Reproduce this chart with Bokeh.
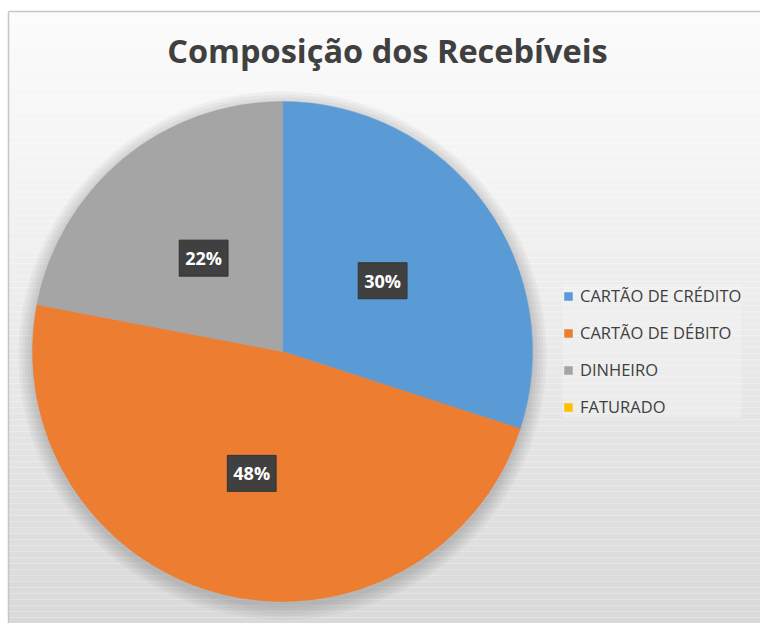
import numpy as np
from bokeh.plotting import figure
from bokeh.models import Range1d, Legend, LegendItem, Label
from bokeh.core.properties import value
from bokeh.embed import file_html
from bokeh.resources import INLINE

# ---- data ----
title_text = "Composição dos Recebíveis"
categories = ["CARTÃO DE CRÉDITO", "CARTÃO DE DÉBITO", "DINHEIRO", "FATURADO"]
shares = [30, 48, 22, 0]
colors = ["#5b9bd5", "#ed7d31", "#a5a5a5", "#ffc000"]

W, H = 760, 623
p = figure(width=W, height=H, output_backend="svg", toolbar_location=None,
           x_range=Range1d(0, W), y_range=Range1d(0, H), min_border=0)
p.axis.visible = False
p.grid.visible = False
p.outline_line_color = None
p.background_fill_color = "#ffffff"
p.border_fill_color = "#ffffff"

# chart-area background: soft vertical gradient (white at top, light grey at bottom)
top = H - 11
left = 8
band = 6
ys = np.arange(0, top, band)
def shade(y):
    d = top - y  # distance from top
    if d < 180:
        c = 0xfb - (0xfb - 0xf3) * d / 180
    else:
        c = 0xf3 - (0xf3 - 0xd9) * (d - 180) / (top - 180)
    c = int(round(c))
    return "#%02x%02x%02x" % (c, c, c)
p.quad(left=[left] * len(ys), right=[W] * len(ys), bottom=list(ys),
       top=[min(y + band, top) for y in ys], fill_color=[shade(y + band / 2) for y in ys],
       line_color=None)
p.segment(x0=[left, left], y0=[top, 0], x1=[W, left], y1=[top, top], line_color="#c6c6c6", line_width=1.5)

# pie
cx, cy, R = 282, H - 351, 250
for k in range(5):
    p.circle(x=[cx], y=[cy - 4], radius=[R + 2 + 3 * k], fill_color="#000000",
             fill_alpha=0.035, line_color=None)

vals = np.array(shares, dtype=float)
frac = vals / vals.sum()
cum = np.concatenate([[0], np.cumsum(frac)])
start = np.pi / 2 - 2 * np.pi * cum[:-1]
end = np.pi / 2 - 2 * np.pi * cum[1:]
renderers = []
for i in range(len(categories)):
    rad = R if shares[i] > 0 else 0
    r = p.wedge(x=cx, y=cy, radius=rad, start_angle=start[i], end_angle=end[i],
                direction="clock", fill_color=colors[i], line_color=colors[i], line_width=0.5)
    renderers.append(r)

# data labels
mid = (start + end) / 2
lab_idx = [i for i in range(len(shares)) if shares[i] > 0]
lx = [cx + 0.495 * R * np.cos(mid[i]) for i in lab_idx]
ly = [cy - 2 + 0.495 * R * np.sin(mid[i]) for i in lab_idx]
lt = ["%d%%" % shares[i] for i in lab_idx]
p.text(x=lx, y=ly, text=lt, text_align="center", text_baseline="middle",
       text_color="#ffffff", text_font=value("Open Sans"), text_font_style="bold",
       text_font_size="18px", background_fill_color="#404040",
       border_line_color="#333333", padding=6)

# title
p.add_layout(Label(x=387, y=H - 50, text=title_text,
                   text_align="center", text_baseline="middle", text_color="#404040",
                   text_font="Open Sans", text_font_style="bold", text_font_size="32.5px"))

# legend
items = [LegendItem(label=categories[i], renderers=[renderers[i]]) for i in range(len(categories))]
leg = Legend(items=items, location=(563, 205), orientation="vertical",
             glyph_width=10, glyph_height=10, label_height=20, label_standoff=7, spacing=14,
             label_text_font="Open Sans", label_text_font_size="16.5px",
             label_text_color="#404040", background_fill_color="#f4f4f4",
             background_fill_alpha=0.4, border_line_color=None, padding=8, margin=0)
p.add_layout(leg, "center")

open("out.html", "w").write(file_html(p, INLINE))
